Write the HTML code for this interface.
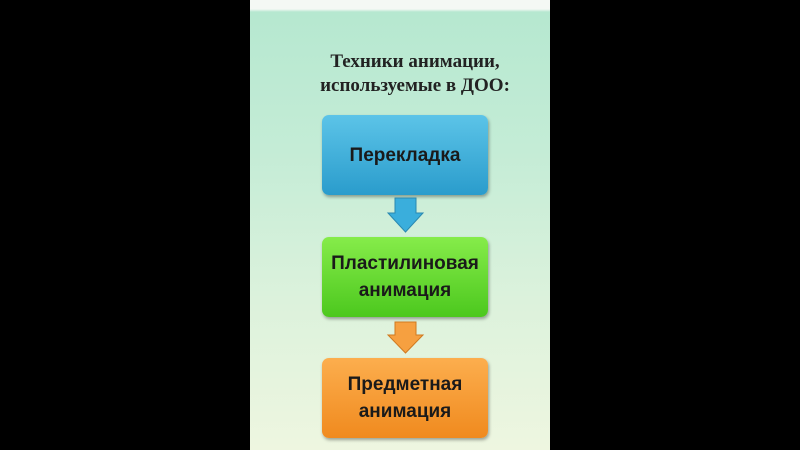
<!DOCTYPE html>
<html><head><meta charset="utf-8"><style>
body{margin:0;width:800px;height:450px;background:#000;position:relative;overflow:hidden;font-family:"Liberation Sans",sans-serif}
#slide{position:absolute;left:250px;top:0;width:300px;height:450px;background:linear-gradient(180deg,#f4f8f4 0,#f4f8f4 9px,#b6e8d0 12px,#c4ecd6 150px,#dcf2dc 300px,#eef6e0 450px)}
.t{position:absolute;left:0;width:330px;text-align:center;font-family:"Liberation Serif",serif;font-weight:bold;font-size:19px;color:#222;line-height:24px}
.box{position:absolute;left:322px;width:166px;height:80px;border-radius:7px;display:flex;align-items:center;justify-content:center;text-align:center;font-weight:bold;font-size:19px;line-height:27px;color:#1a1a1a;box-shadow:1px 2px 3px rgba(0,0,0,.35)}
</style></head><body>
<div id="slide"></div>
<div class="t" style="left:250px;top:50px">Техники анимации,<br>используемые в ДОО:</div>
<div class="box" style="top:115px;background:linear-gradient(180deg,#5cc4e8,#2a9ccc)">Перекладка</div>
<div class="box" style="top:237px;background:linear-gradient(180deg,#86ec4a,#4cc81e)">Пластилиновая<br>анимация</div>
<div class="box" style="top:358px;background:linear-gradient(180deg,#fcae4e,#f08a1e)">Предметная<br>анимация</div>
<svg style="position:absolute;left:0;top:0" width="800" height="450">
<polygon points="395,198 416,198 416,213 423,213 405.5,232 388,213 395,213" fill="#3aaedc" stroke="#2a88b0" stroke-width="1"/>
<polygon points="395,322 416,322 416,335 423,335 405.5,353 388,335 395,335" fill="#f6a040" stroke="#d07a20" stroke-width="1"/>
</svg>
</body></html>
